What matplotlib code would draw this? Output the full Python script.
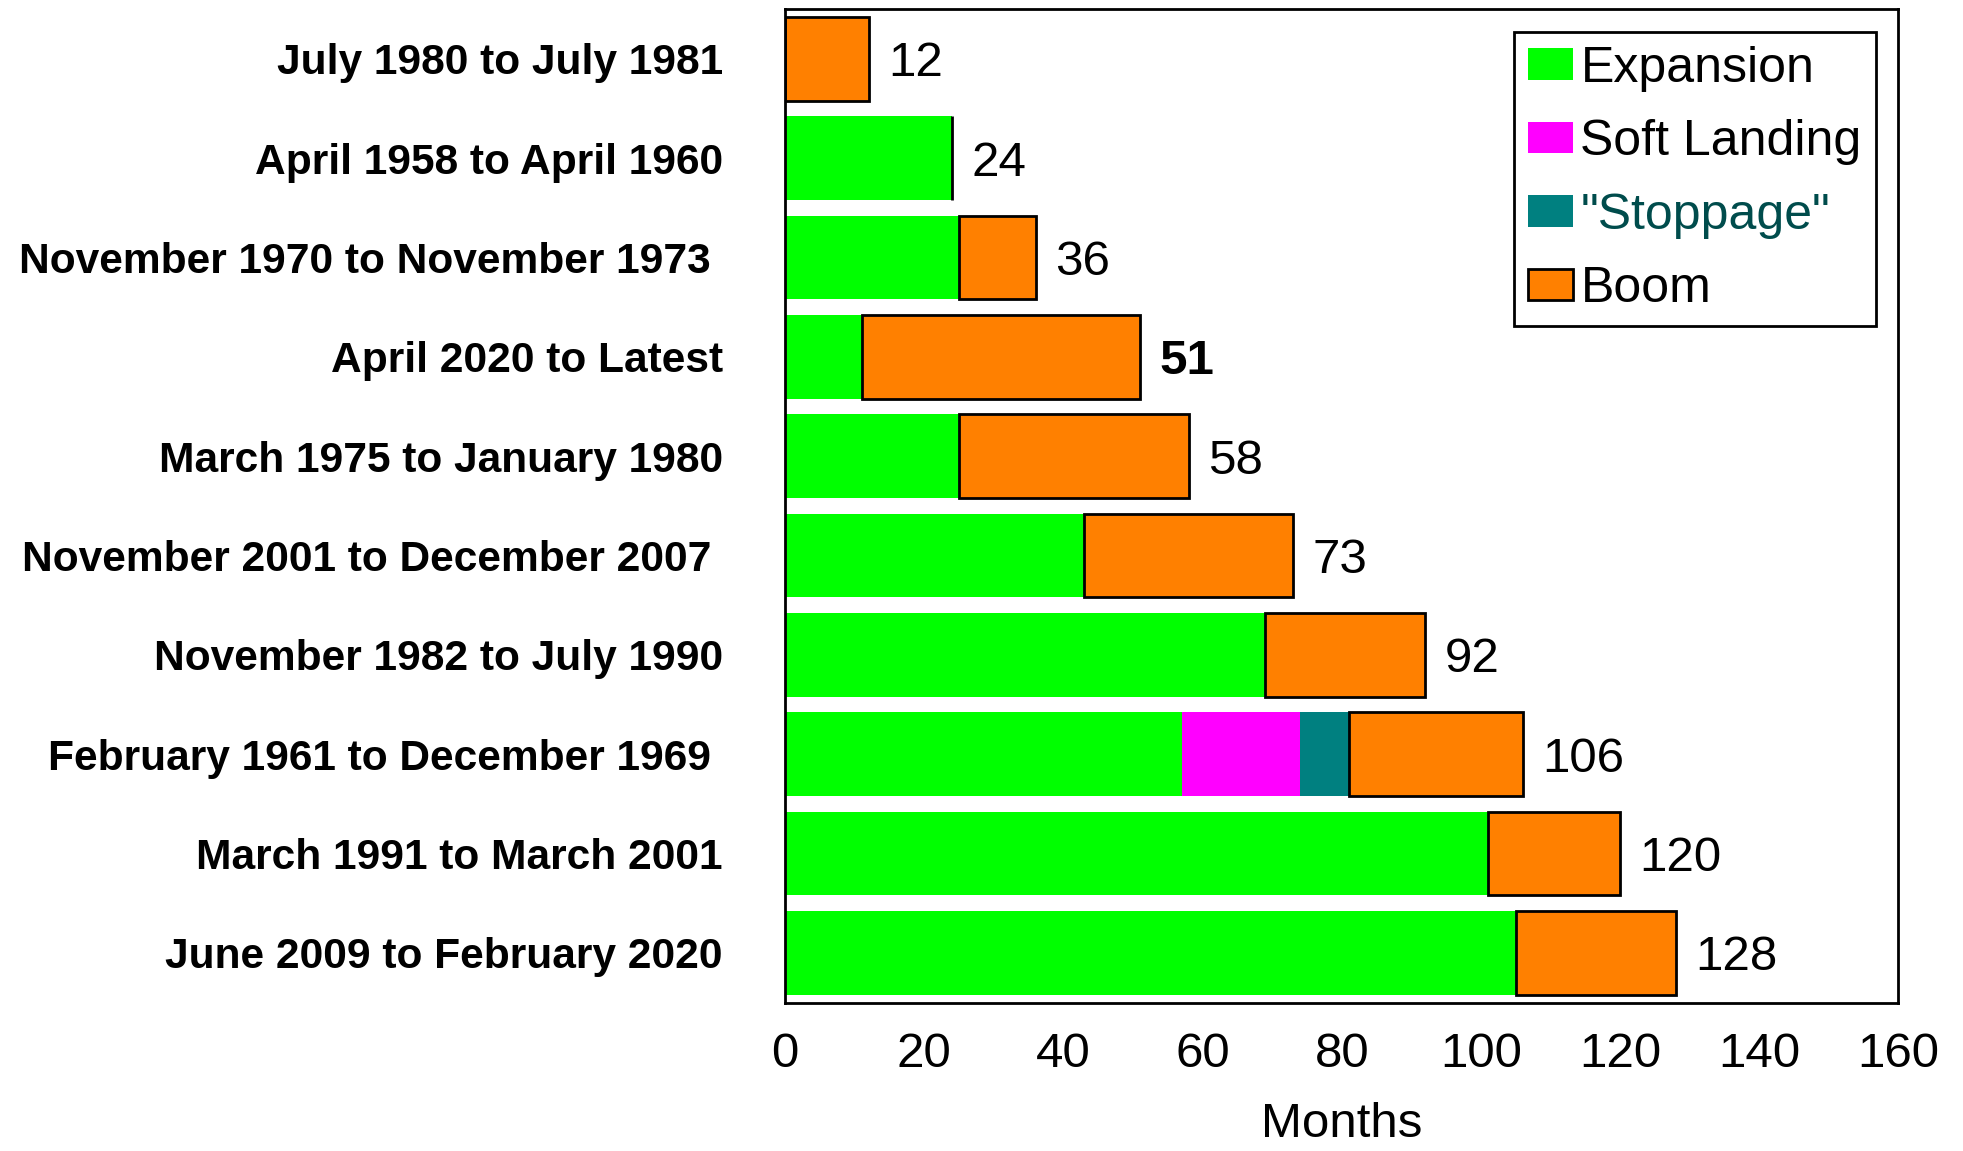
import numpy as np
import matplotlib
matplotlib.use('Agg')
from matplotlib import pyplot as plt
from matplotlib.patches import Patch

plt.rcParams['font.family'] = ['Liberation Sans', 'DejaVu Sans']

# expansions, top to bottom
labels = ['July 1980 to July 1981', 'April 1958 to April 1960', 'November 1970 to November 1973 ',
          'April 2020 to Latest', 'March 1975 to January 1980', 'November 2001 to December 2007 ',
          'November 1982 to July 1990', 'February 1961 to December 1969 ', 'March 1991 to March 2001',
          'June 2009 to February 2020']
expansion = [0, 24, 25, 11, 25, 43, 69, 57, 101, 105]
soft_landing = [0, 0, 0, 0, 0, 0, 0, 17, 0, 0]
stoppage = [0, 0, 0, 0, 0, 0, 0, 7, 0, 0]
boom = [12, 0, 11, 40, 33, 30, 23, 25, 19, 23]
totals = [12, 24, 36, 51, 58, 73, 92, 106, 120, 128]
bold_total = 'April 2020 to Latest'

c_exp = '#00ff00'
c_soft = '#ff00ff'
c_stop = '#008080'
c_boom = '#ff8000'

fig = plt.figure(figsize=(19.63, 11.51), dpi=100)
ax = fig.add_axes([0.400, 0.129, 0.567, 0.863])

y = np.arange(len(labels))
h = 0.84
left = np.zeros(len(labels))
ax.barh(y, expansion, height=h, left=left, color=c_exp, linewidth=0)
left += expansion
ax.barh(y, soft_landing, height=h, left=left, color=c_soft, linewidth=0)
left += soft_landing
ax.barh(y, stoppage, height=h, left=left, color=c_stop, linewidth=0)
left += stoppage
ax.barh(y, boom, height=h, left=left, color=c_boom, edgecolor='black', linewidth=2)

for i in range(len(labels)):
    wt = 'bold' if labels[i] == bold_total else 'normal'
    ax.annotate(str(totals[i]), (totals[i], y[i]), xytext=(14, -3.5), textcoords='offset points',
                va='center', ha='left', fontsize=35.5, fontweight=wt)

ax.set_xlim(0, 160)
ax.set_ylim(9.5, -0.5)
ax.set_xticks(np.arange(0, 161, 20))
ax.set_yticks(y)
ax.set_yticklabels(labels, fontsize=30.6, fontweight='bold')
ax.tick_params(axis='y', length=0, pad=45)
ax.tick_params(axis='x', length=0, pad=21, labelsize=35.5)
ax.set_xlabel('Months', fontsize=35.5, labelpad=18)
for s in ax.spines.values():
    s.set_linewidth(2)

handles = [Patch(facecolor=c_exp, edgecolor='none', label='Expansion'),
           Patch(facecolor=c_soft, edgecolor='none', label='Soft Landing'),
           Patch(facecolor=c_stop, edgecolor='none', label='"Stoppage"'),
           Patch(facecolor=c_boom, edgecolor='black', linewidth=2, label='Boom')]
leg = ax.legend(handles=handles, loc='upper right', fontsize=36, fancybox=False,
                edgecolor='black', framealpha=1, handlelength=0.9, handleheight=0.6,
                handletextpad=0.15, labelspacing=0.55, borderpad=0.28, borderaxespad=0.45)
leg.get_frame().set_linewidth(2)
leg.get_texts()[2].set_color('#004c4c')

fig.savefig('out.png', dpi=100)
